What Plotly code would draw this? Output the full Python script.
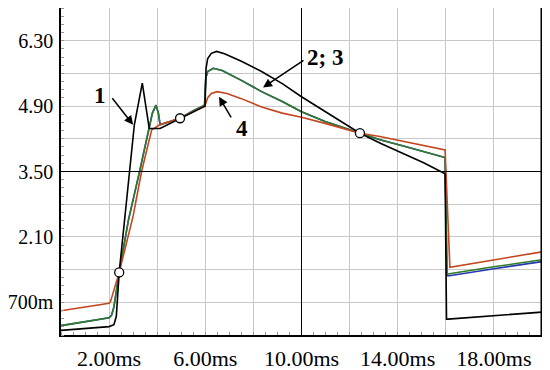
import plotly.graph_objects as go

# ---- data (time in ms, value) ----
t_black = [0, 2.0, 2.2, 2.3, 2.42, 2.7, 2.9, 3.05, 3.38, 3.67, 4.12, 4.95, 5.5, 5.99, 6.03, 6.1, 6.25,
           6.47, 6.8, 7.5, 8.34, 9.2, 10.0, 10.98, 11.7, 12.43, 13.3, 14.2, 15.1, 15.97, 16.03, 16.1, 18.0, 20.0]
v_black = [0.10, 0.18, 0.22, 0.40, 1.34, 2.7, 3.7, 4.5, 5.39, 4.42, 4.42, 4.64, 4.78, 4.90, 5.70, 5.92, 6.03,
           6.07, 6.02, 5.86, 5.64, 5.38, 5.10, 4.78, 4.55, 4.32, 4.10, 3.89, 3.68, 3.45, 0.34, 0.34, 0.41, 0.49]

t_green = [0, 2.0, 2.1, 2.2, 2.42, 2.8, 3.28, 3.7, 3.8, 3.95, 4.05, 4.12, 4.95, 5.5, 5.97, 6.02, 6.1, 6.33,
           6.7, 7.5, 8.34, 9.2, 10.0, 10.98, 11.7, 12.43, 13.26, 14.2, 15.1, 15.97, 16.05, 16.15, 18.0, 20.0]
v_green = [0.20, 0.37, 0.42, 0.60, 1.34, 2.45, 3.53, 4.46, 4.75, 4.92, 4.75, 4.50, 4.64, 4.80, 4.92, 5.50, 5.64, 5.71,
           5.66, 5.45, 5.21, 5.00, 4.78, 4.57, 4.45, 4.32, 4.18, 4.05, 3.93, 3.80, 1.31, 1.31, 1.46, 1.61]

t_blue = t_green
v_blue = [0.20, 0.37, 0.42, 0.60, 1.34, 2.45, 3.53, 4.46, 4.75, 4.92, 4.75, 4.50, 4.64, 4.80, 4.92, 5.50, 5.64, 5.71,
          5.66, 5.45, 5.21, 5.00, 4.78, 4.57, 4.45, 4.32, 4.18, 4.05, 3.93, 3.80, 1.27, 1.27, 1.42, 1.57]

t_red = [0, 2.0, 2.06, 2.42, 3.0, 3.35, 3.77, 4.1, 4.95, 5.5, 5.98, 6.1, 6.25, 6.5, 6.9, 7.5, 8.34, 9.2,
         10.0, 10.98, 11.7, 12.43, 13.26, 14.2, 15.1, 15.97, 16.17, 18.0, 20.0]
v_red = [0.52, 0.68, 0.72, 1.34, 2.55, 3.5, 4.39, 4.50, 4.64, 4.78, 4.90, 5.08, 5.17, 5.21, 5.17, 5.06, 4.88, 4.75,
         4.66, 4.53, 4.43, 4.32, 4.25, 4.15, 4.06, 3.96, 1.45, 1.61, 1.78]

t_points = [2.42, 4.95, 12.43]
v_points = [1.34, 4.64, 4.32]

x_tickvals = [0, 2, 4, 6, 8, 10, 12, 14, 16, 18, 20]
x_ticktext = ["", "2.00ms", "", "6.00ms", "", "10.00ms", "", "14.00ms", "", "18.00ms", ""]
y_tickvals = [0, 0.7, 1.4, 2.1, 2.8, 3.5, 4.2, 4.9, 5.6, 6.3, 7.0]
y_ticktext = ["", "700m", "", "2.10", "", "3.50", "", "4.90", "", "6.30", ""]

FONT = "Liberation Serif, Times New Roman, serif"

fig = go.Figure()
fig.add_trace(go.Scatter(x=t_blue, y=v_blue, mode="lines", line=dict(color="#2437b0", width=1.6), showlegend=False))
fig.add_trace(go.Scatter(x=t_green, y=v_green, mode="lines", line=dict(color="#2f7a2a", width=1.6), showlegend=False))
fig.add_trace(go.Scatter(x=t_red, y=v_red, mode="lines", line=dict(color="#c4461f", width=1.6), showlegend=False))
fig.add_trace(go.Scatter(x=t_black, y=v_black, mode="lines", line=dict(color="#000000", width=1.6), showlegend=False))

# emphasized centre grid lines (drawn above the light grid)
fig.add_shape(type="line", xref="x", yref="paper", x0=10, x1=10, y0=0, y1=1,
              line=dict(color="#000000", width=1), layer="above")
fig.add_shape(type="line", xref="paper", yref="y", x0=0, x1=1, y0=3.5, y1=3.5,
              line=dict(color="#000000", width=1), layer="above")
# thick right border
fig.add_shape(type="line", xref="paper", yref="paper", x0=1, x1=1, y0=0, y1=1,
              line=dict(color="black", width=3))

fig.add_trace(go.Scatter(x=t_points, y=v_points, mode="markers",
                         marker=dict(symbol="circle", size=9, color="white", line=dict(color="black", width=1.3)),
                         showlegend=False))

ann_font = dict(family=FONT, size=23, color="black")
# labels
fig.add_annotation(x=1.62, y=5.12, text="<b>1</b>", showarrow=False, font=ann_font)
fig.add_annotation(x=10.98, y=5.95, text="<b>2; 3</b>", showarrow=False, font=ann_font)
fig.add_annotation(x=7.51, y=4.43, text="<b>4</b>", showarrow=False, font=ann_font)
# arrows
arrow = dict(showarrow=True, arrowhead=2, arrowsize=1.2, arrowwidth=1.5, arrowcolor="black", text="")
fig.add_annotation(x=3.0, y=4.50, ax=-22, ay=-28, **arrow)
fig.add_annotation(x=8.40, y=5.30, ax=42, ay=-28, **arrow)
fig.add_annotation(x=6.57, y=5.10, ax=13, ay=22, **arrow)

# page body adds an 8px offset; size the figure so the plot area lands at x 61-542, y 8-335
fig.update_layout(
    width=540, height=362,
    margin=dict(l=53, r=6, t=0, b=35),
    paper_bgcolor="white", plot_bgcolor="white",
    font=dict(family=FONT, size=23, color="black"),
    xaxis=dict(range=[0, 20], tickvals=x_tickvals, ticktext=x_ticktext, automargin=False,
               tickfont=dict(size=22),
               showgrid=True, gridcolor="#c8c8c8", gridwidth=1,
               minor=dict(dtick=0.5, tick0=0, ticks="inside", ticklen=3, tickcolor="#999999", showgrid=False),
               showline=True, linecolor="black", linewidth=1.5, mirror=True,
               ticks="", zeroline=False, ticklabelstandoff=3),
    yaxis=dict(range=[0, 7], tickvals=y_tickvals, ticktext=y_ticktext, automargin=False,
               tickfont=dict(size=20),
               showgrid=True, gridcolor="#c8c8c8", gridwidth=1,
               minor=dict(dtick=0.175, tick0=0, ticks="inside", ticklen=3, tickcolor="#999999", showgrid=False),
               showline=True, linecolor="black", linewidth=1.5, mirror=True,
               ticks="", zeroline=False, ticklabelstandoff=2),
)

fig.write_html("out.html")
